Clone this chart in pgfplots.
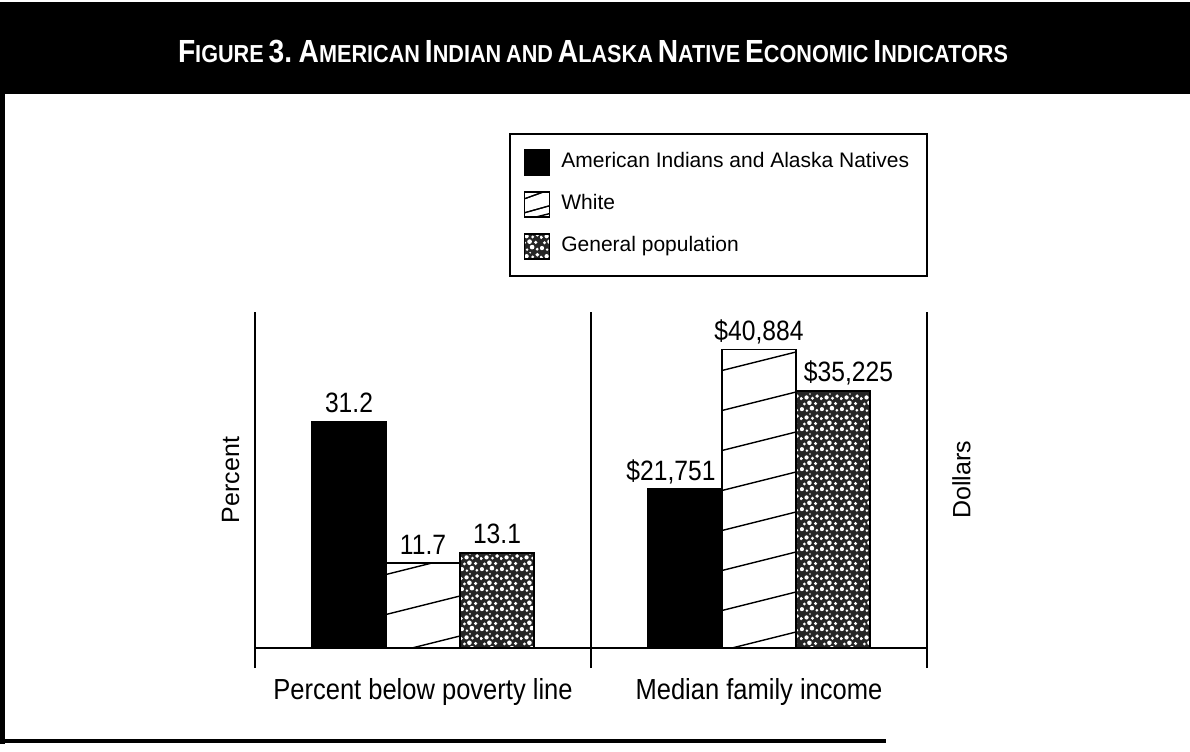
\documentclass[border=0pt]{standalone}
\usepackage{pgfplots}
\pgfplotsset{compat=1.18}
\usetikzlibrary{patterns}
\usepackage{fontspec}
\setmainfont{Liberation Sans}
\newfontfamily\narrow[FakeStretch=0.88]{Liberation Sans}
\newfontfamily\titlefont[FakeStretch=0.88]{Liberation Sans}

% slanted hatch for the "White" bars
\pgfdeclarepatternformonly{whitehatch}{\pgfqpoint{-1pt}{-1pt}}{\pgfqpoint{81pt}{21pt}}{\pgfqpoint{80pt}{20pt}}{%
  \pgfsetlinewidth{0.7pt}%
  \pgfpathmoveto{\pgfqpoint{-4pt}{-1pt}}%
  \pgfpathlineto{\pgfqpoint{84pt}{21pt}}%
  \pgfusepath{stroke}}

% mottled stipple for "General population"
\pgfdeclarepatternformonly{speckle}{\pgfqpoint{0pt}{0pt}}{\pgfqpoint{10pt}{10pt}}{\pgfqpoint{10pt}{10pt}}{%
  \pgfpathcircle{\pgfqpoint{1.0pt}{1.5pt}}{1.1pt}%
  \pgfpathcircle{\pgfqpoint{3.6pt}{0.7pt}}{0.7pt}%
  \pgfpathcircle{\pgfqpoint{6.2pt}{2.0pt}}{1.2pt}%
  \pgfpathcircle{\pgfqpoint{8.8pt}{0.9pt}}{0.8pt}%
  \pgfpathcircle{\pgfqpoint{2.3pt}{4.2pt}}{0.8pt}%
  \pgfpathcircle{\pgfqpoint{4.9pt}{4.8pt}}{1.2pt}%
  \pgfpathcircle{\pgfqpoint{8.1pt}{4.4pt}}{0.9pt}%
  \pgfpathcircle{\pgfqpoint{0.6pt}{7.0pt}}{0.9pt}%
  \pgfpathcircle{\pgfqpoint{3.4pt}{7.6pt}}{1.1pt}%
  \pgfpathcircle{\pgfqpoint{6.5pt}{7.2pt}}{0.8pt}%
  \pgfpathcircle{\pgfqpoint{8.9pt}{8.3pt}}{1.0pt}%
  \pgfpathcircle{\pgfqpoint{5.2pt}{9.4pt}}{0.5pt}%
  \pgfusepath{fill}}

% fake small caps for the banner title
\newcommand\bsc[2]{{\fontsize{16}{18}\selectfont #1}{\fontsize{12.3}{14}\selectfont #2}}
\newcommand\ssc[1]{{\fontsize{12.3}{14}\selectfont #1}}

\tikzset{
  labfont/.style={font=\narrow\fontsize{14.5}{17}\selectfont},
  yfont/.style={font=\fontsize{12.5}{15}\selectfont},
}

\pgfplotsset{
  panel/.style={
    scale only axis, width=168pt, height=178pt, anchor=south west,
    axis lines=none, xtick=\empty, ytick=\empty,
    xmin=0, xmax=1, ybar=0pt, bar width=37pt, clip=false,
    point meta=explicit symbolic,
    nodes near coords,
    every node near coord/.append style={font=\narrow\fontsize{14}{16}\selectfont,
      anchor=base, inner sep=0pt, yshift=4.5pt},
  },
  swatch/.style={legend image code/.code={%
      \draw[##1] (0pt,-6.25pt) rectangle (12.5pt,6.25pt);
      \path (16pt,0pt);}},
  aian/.style={fill=black, draw=black, line width=0.75pt, swatch},
  wht/.style={fill=white, draw=black, line width=0.75pt,
    postaction={pattern=whitehatch},
    legend image code/.code={%
      \draw[fill=white, draw=black, line width=0.75pt] (0pt,-6.25pt) rectangle (12.5pt,6.25pt);
      \draw[line width=0.6pt] (0pt,-4pt) -- (12.5pt,-0.5pt);
      \draw[line width=0.6pt] (0pt,3pt) -- (9pt,6.25pt);
      \path (16pt,0pt);}},
  gen/.style={fill=black!85, draw=black, line width=0.75pt,
    postaction={pattern=speckle, pattern color=white}, swatch},
}

\begin{document}
\begin{tikzpicture}
\path[use as bounding box] (0pt,0pt) rectangle (595pt,-375.5pt);

% banner and frame
\fill[black] (0pt,-1pt) rectangle (595pt,-47pt);
\node[text=white, font=\titlefont\bfseries] at (296.5pt,-26pt)
  {\bsc{F}{IGURE} {\fontsize{16}{18}\selectfont 3.} \bsc{A}{MERICAN} \bsc{I}{NDIAN} \ssc{AND}
   \bsc{A}{LASKA} \bsc{N}{ATIVE} \bsc{E}{CONOMIC} \bsc{I}{NDICATORS}};
\draw[line width=2.6pt] (1.3pt,-46pt) -- (1.3pt,-372pt);
\draw[line width=2pt] (0pt,-370.5pt) -- (443pt,-370.5pt);

% left panel: percent below poverty line
\begin{axis}[panel, at={(127.5pt,-334pt)},
    ymin=-2.76, ymax=46.3,
  ]
  \addplot[aian] coordinates {(0.5,31.2) [31.2]};
  \addplot[wht]  coordinates {(0.5,11.7) [11.7]};
  \addplot[gen]  coordinates {(0.5,13.1) [13.1]};
  \draw[line width=0.8pt] (rel axis cs:0,0) -- (rel axis cs:0,1);
  \draw[line width=0.8pt] (rel axis cs:1,0) -- (rel axis cs:1,1);
  \draw[line width=1pt] (axis cs:0,0) -- (axis cs:1,0);
  \node[labfont, anchor=north, inner sep=0pt] at ([yshift=-5pt]rel axis cs:0.5,0)
    {Percent below poverty line};
  \node[yfont, rotate=90, anchor=south, inner sep=0pt] at (rel axis cs:-0.045,0.528)
    {Percent};
\end{axis}

% right panel: median family income
\begin{axis}[panel, at={(295.5pt,-334pt)},
    ymin=-2740, ymax=46030,
    legend style={at={(1.003,1.503)}, anchor=north east, draw=black, line width=0.8pt,
      font=\fontsize{10.5}{12}\selectfont, inner xsep=7pt, inner ysep=7.5pt,
      row sep=7pt, nodes={inner sep=2pt, text height=0.75em, text depth=0.25em}},
    legend cell align=left,
  ]
  \addplot[aian, every node near coord/.append style={xshift=-7pt}]
    coordinates {(0.5,21751) [\$21,751]};
  \addplot[wht] coordinates {(0.5,40884) [\$40,884]};
  \addplot[gen, every node near coord/.append style={xshift=7.75pt}]
    coordinates {(0.5,35225) [\$35,225]};
  \addlegendentry{American Indians and Alaska Natives}
  \addlegendentry{White}
  \addlegendentry{General population}
  \draw[line width=0.8pt] (rel axis cs:1,0) -- (rel axis cs:1,1);
  \draw[line width=1pt] (axis cs:0,0) -- (axis cs:1,0);
  \node[labfont, anchor=north, inner sep=0pt] at ([yshift=-5pt]rel axis cs:0.5,0)
    {Median family income};
  \node[yfont, rotate=90, anchor=north, inner sep=0pt] at (rel axis cs:1.074,0.528)
    {Dollars};
\end{axis}
\end{tikzpicture}
\end{document}
